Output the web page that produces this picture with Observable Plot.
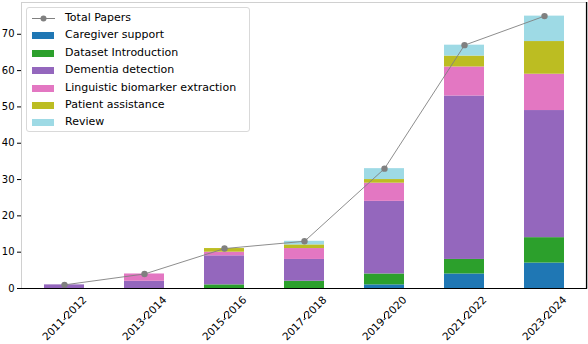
<!DOCTYPE html>
<html>
<head>
<meta charset="utf-8">
<script src="https://cdn.jsdelivr.net/npm/d3@7"></script>
<script src="https://cdn.jsdelivr.net/npm/@observablehq/plot@0.6"></script>
<style>
  body { margin: 0; background: #fff; font-family: "DejaVu Sans", sans-serif; }
  #wrap { position: relative; width: 588px; height: 344px; overflow: hidden; }
  #legend { position: absolute; left: 26px; top: 7px; width: 224px; height: 125px;
    border: 1px solid #d9d9d9; border-radius: 3px; background: rgba(255,255,255,0.8);
    box-sizing: border-box; font-size: 11px; color: #000; }
  .row { position: absolute; left: 0; height: 17px; display: flex; align-items: center; }
  .sw { position: absolute; left: 5px; width: 22px; height: 7px; }
  .lab { position: absolute; left: 38px; white-space: nowrap; }
</style>
</head>
<body>
<div id="wrap"></div>
<script>
const periods = ["2011-2012", "2013-2014", "2015-2016", "2017-2018", "2019-2020", "2021-2022", "2023-2024"];
const categories = ["Caregiver support", "Dataset Introduction", "Dementia detection", "Linguistic biomarker extraction", "Patient assistance", "Review"];
const colors = ["#1f77b4", "#2ca02c", "#9467bd", "#e377c2", "#bcbd22", "#9edae5"];
const caregiver = [0, 0, 0, 0, 1, 4, 7];
const dataset = [0, 0, 1, 2, 3, 4, 7];
const detection = [1, 2, 8, 6, 20, 45, 35];
const linguistic = [0, 2, 1, 3, 5, 8, 10];
const patient = [0, 0, 1, 1, 1, 3, 9];
const review = [0, 0, 0, 1, 3, 3, 7];
const totals = [1, 4, 11, 13, 33, 67, 75];
const yTicks = [0, 10, 20, 30, 40, 50, 60, 70];

const series = [caregiver, dataset, detection, linguistic, patient, review];
const rows = [];
series.forEach((vals, k) => vals.forEach((v, i) => rows.push({period: periods[i], category: categories[k], value: v})));
const totalRows = periods.map((p, i) => ({period: p, total: totals[i]}));

const marginLeft = 21, marginRight = 1, marginTop = 2, marginBottom = 56;
const chart = Plot.plot({
  width: 588, height: 344,
  marginLeft, marginRight, marginTop, marginBottom,
  style: {fontFamily: "DejaVu Sans", fontSize: "10px", background: "white", color: "black"},
  x: {domain: periods, paddingInner: 0.5, paddingOuter: 0.25, label: null},
  y: {domain: [0, 78.75], label: null},
  color: {domain: categories, range: colors},
  marks: [
    Plot.frame({stroke: "#d0d0d0", strokeWidth: 1}),
    Plot.barY(rows, {x: "period", y: "value", fill: "category", order: categories, inset: 0}),
    Plot.lineY(totalRows, {x: "period", y: "total", stroke: "#808080", strokeWidth: 0.9}),
    Plot.dot(totalRows, {x: "period", y: "total", fill: "#808080", r: 3.2}),
    Plot.ruleY([0], {stroke: "black", strokeWidth: 1.2}),
    Plot.axisY({ticks: yTicks, tickSize: 4, tickPadding: 3, fontSize: 10, label: null}),
    Plot.axisX({tickSize: 4, tickRotate: -45, textAnchor: "middle", lineAnchor: "middle", tickPadding: 0, dy: 26, fontSize: 10.5, label: null})
  ]
});
document.getElementById("wrap").appendChild(chart);

// right spine (black)
const svg = d3.select(chart);
svg.append("line")
  .attr("x1", 588 - marginRight - 0.5).attr("x2", 588 - marginRight - 0.5)
  .attr("y1", marginTop).attr("y2", 344 - marginBottom)
  .attr("stroke", "black").attr("stroke-width", 1.2);

// legend
const legend = document.createElement("div");
legend.id = "legend";
const items = [{label: "Total Papers", line: true}].concat(categories.map((c, i) => ({label: c, color: colors[i]})));
items.forEach((it, i) => {
  const row = document.createElement("div");
  row.className = "row";
  row.style.top = (2 + i * 17.4) + "px";
  row.style.width = "100%";
  if (it.line) {
    row.innerHTML = `<svg width="30" height="17" style="position:absolute;left:4px;top:0"><line x1="1" x2="24" y1="8.5" y2="8.5" stroke="#808080" stroke-width="1"/><circle cx="12.5" cy="8.5" r="3" fill="#808080"/></svg>`;
  } else {
    row.innerHTML = `<div class="sw" style="background:${it.color};top:5px"></div>`;
  }
  const lab = document.createElement("span");
  lab.className = "lab";
  lab.textContent = it.label;
  lab.style.top = "1px";
  row.appendChild(lab);
  legend.appendChild(row);
});
document.getElementById("wrap").appendChild(legend);
</script>
</body>
</html>
